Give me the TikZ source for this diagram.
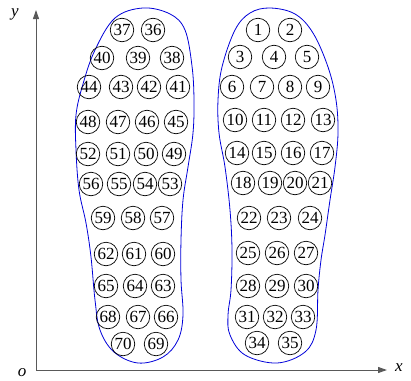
\documentclass[tikz,border=0pt]{standalone}
\usepackage{fontspec}
\setmainfont{Liberation Serif}
\usetikzlibrary{arrows.meta}
\begin{document}
\begin{tikzpicture}[x=1pt,y=-1pt,
  sensor/.style={circle,draw,line width=0.7pt,minimum size=23.5pt,inner sep=0pt,font=\fontsize{17}{17}\selectfont},
  axis/.style={line width=1pt,draw=black!65,-{Triangle[length=9pt,width=6pt]}},
  outline/.style={draw=blue!85!black,line width=0.8pt}]
\useasboundingbox (0,0) rectangle (411,380);
% axes
\coordinate (O) at (36,370);
\coordinate (Y) at (36,10);
\coordinate (X) at (387,370);
\draw[axis] (O) -- (Y);
\draw[axis] (O) -- (X);
\node[font=\fontsize{17}{17}\selectfont\itshape] (ylab) at (15,14) {y};
\node[font=\fontsize{17}{17}\selectfont\itshape] (olab) at (22,373) {o};
\node[font=\fontsize{17}{17}\selectfont\itshape] (xlab) at (399,368) {x};
% outlines
\draw[outline] plot[smooth cycle,tension=0.6] coordinates {
 (143,8) (170,14) (185,30) (192,66) (194,100) (193,133) (188,167) (183,200)
 (181,240) (181,280) (183,315) (178,340) (163,357) (138,363) (114,352) (100,330)
 (95,300) (91,257) (86,223) (79,190) (76,150) (76,115) (83,84) (95,50) (115,18)};
\draw[outline] plot[smooth cycle,tension=0.6] coordinates {
 (270,8) (295,14) (313,33) (328,67) (336,100) (338,133) (335,167) (330,200)
 (325,235) (321,260) (318,290) (316,330) (305,352) (277,363) (245,355) (230,335)
 (228,315) (231,290) (232,250) (230,210) (225,167) (219,133) (218,100) (222,67) (235,30) (250,13)};
% sensors
\foreach \n/\x/\y in {37/122/30,36/153/30,
 40/102/58,39/138/58,38/172/58,
 44/89/87,43/121/87,42/149/87,41/178/87,
 48/88/122,47/118/122,46/147/122,45/176/122,
 52/88/154,51/118/154,50/146/154,49/174/154,
 56/91/184,55/119/184,54/145/184,53/170/184,
 59/103/218,58/133/218,57/162/218,
 62/106/254,61/134/254,60/163/254,
 65/106/286,64/135/286,63/163/286,
 68/108/317,67/138/317,66/166/317,
 70/123/344,69/156/344,
 1/258/30,2/290/30,
 3/240/57,4/274/57,5/307/57,
 6/232/87,7/262/87,8/290/87,9/318/87,
 10/235/120,11/264/120,12/293/120,13/323/120,
 14/237/153,15/264/153,16/293/153,17/322/153,
 18/243/183,19/270/183,20/295/183,21/320/183,
 22/249/218,23/279/218,24/310/218,
 25/248/253,26/277/253,27/306/253,
 28/248/286,29/277/286,30/306/286,
 31/247/317,32/275/317,33/303/317,
 34/257/343,35/290/343}
  \node[sensor] (s\n) at (\x,\y) {\n};
\end{tikzpicture}
\end{document}
